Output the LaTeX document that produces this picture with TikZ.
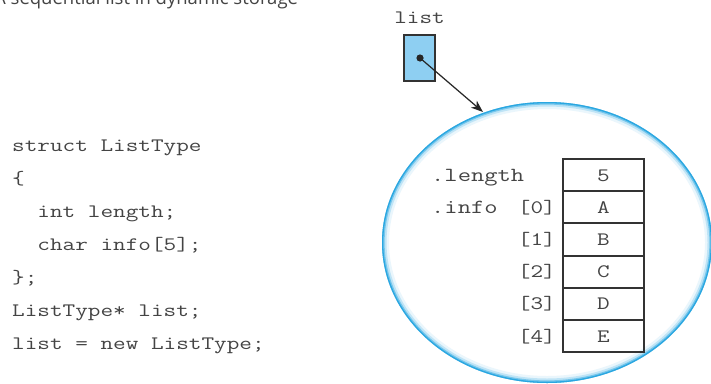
\documentclass[tikz,border=0pt]{standalone}
\usepackage{fontspec}
\usetikzlibrary{arrows.meta}
\newfontfamily\codefont{Latin Modern Mono}[FakeStretch=1.29]
\newfontfamily\titlefont{Open Sans}
\definecolor{ringblue}{HTML}{2AA7E1}
\definecolor{boxblue}{HTML}{8ECFF2}
\definecolor{inkgray}{HTML}{333333}
\definecolor{textgray}{HTML}{444444}
\tikzset{
  codetext/.style={font=\codefont\fontsize{19}{22}\selectfont, text=textgray, inner sep=0pt},
  fieldtext/.style={font=\codefont\fontsize{20}{22}\selectfont, text=textgray, inner sep=0pt},
  cellbox/.style={draw=inkgray, line width=2pt, minimum width=81pt, minimum height=32.2pt,
    inner sep=0pt, text height=12pt, text depth=0pt, codetext},
}
\begin{document}
\begin{tikzpicture}[x=1pt,y=-1pt]
\useasboundingbox (0,0) rectangle (711,383);
\fill[white] (0,0) rectangle (711,383);
% title (partly cut off at top, as in the reference)
\node[anchor=base west, font=\titlefont\fontsize{18.5}{20}\selectfont, text=textgray, inner sep=0pt] (title) at (-6,4) {A sequential list in dynamic storage};
% code
\node[codetext, anchor=base west] (c1) at (12,151) {struct ListType};
\node[codetext, anchor=base west] (c2) at (12,184) {\{};
\node[codetext, anchor=base west] (c3) at (12,217) {\ \ int length;};
\node[codetext, anchor=base west] (c4) at (12,250) {\ \ char info[5];};
\node[codetext, anchor=base west] (c5) at (12,283) {\};};
\node[codetext, anchor=base west] (c6) at (12,316) {ListType* list;};
\node[codetext, anchor=base west] (c7) at (12,349) {list = new ListType;};
% ellipse (dynamic storage)
\coordinate (ec) at (547,242.5);
\fill[white] (ec) ellipse [x radius=165, y radius=140.5];
\draw[line width=7pt, ringblue!10] (ec) ellipse [x radius=161.5, y radius=137];
\draw[line width=4.5pt, ringblue!30] (ec) ellipse [x radius=162.75, y radius=138.25];
\draw[line width=2.6pt, ringblue!65] (ec) ellipse [x radius=163.7, y radius=139.2];
\draw[line width=1.3pt, ringblue] (ec) ellipse [x radius=164.35, y radius=139.85];
% pointer variable
\node[codetext, anchor=base] (listlbl) at (419.5,23) {list};
\node[draw=inkgray, line width=2.2pt, fill=boxblue, minimum width=31pt, minimum height=46pt, inner sep=0pt] (ptr) at (419.5,58) {};
\coordinate (dot) at (420,58);
\fill[black!85] (dot) circle (3.6);
\coordinate (tgt) at (483,112);
\draw[line width=1.2pt, black!85, -{Stealth[length=12pt,width=9pt,inset=3.5pt]}] (dot) -- (tgt);
% struct fields
\node[fieldtext, anchor=base west] (flen) at (431,181) {.length};
\node[fieldtext, anchor=base west] (finfo) at (431,213.3) {.info};
\node[cellbox] (r0) at (603.5,175.1) {5};
\node[cellbox] (r1) at (603.5,207.3) {A};
\node[cellbox] (r2) at (603.5,239.5) {B};
\node[cellbox] (r3) at (603.5,271.7) {C};
\node[cellbox] (r4) at (603.5,303.9) {D};
\node[cellbox] (r5) at (603.5,336.1) {E};
\node[codetext, anchor=base east] (i0) at (556,213.3) {[0]};
\node[codetext, anchor=base east] (i1) at (556,245.5) {[1]};
\node[codetext, anchor=base east] (i2) at (556,277.7) {[2]};
\node[codetext, anchor=base east] (i3) at (556,309.9) {[3]};
\node[codetext, anchor=base east] (i4) at (556,342.1) {[4]};
\end{tikzpicture}
\end{document}
